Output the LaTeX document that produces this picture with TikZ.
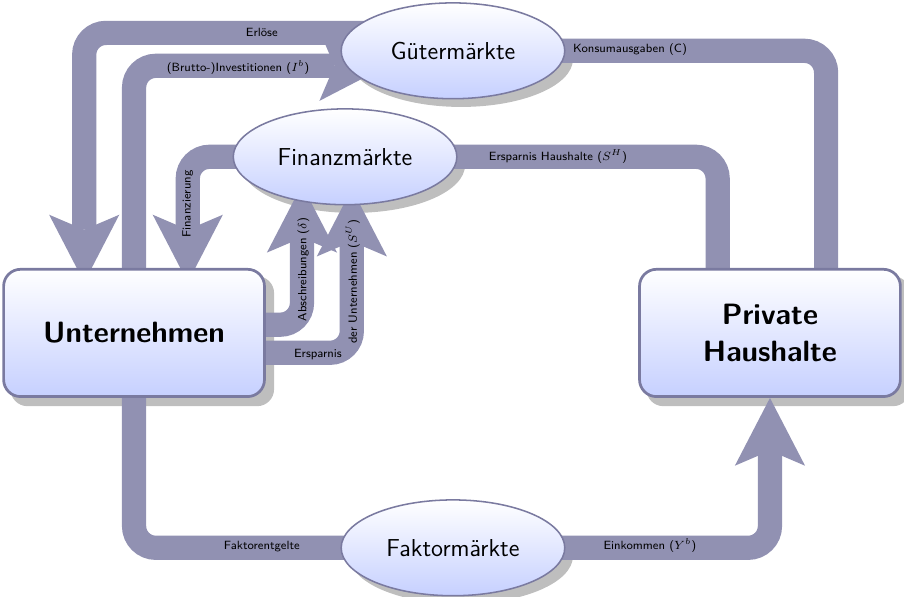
\documentclass[tikz,border=0pt]{standalone}
\usepackage{fontspec}
\usepackage{amsmath}
\usetikzlibrary{arrows.meta,positioning,calc,shapes.geometric}

\definecolor{flowc}{RGB}{145,145,178}
\definecolor{edgec}{RGB}{122,122,160}
\definecolor{lightb}{RGB}{198,208,255}
\definecolor{shadowc}{RGB}{190,190,190}

\pgfdeclarelayer{shadow}
\pgfdeclarelayer{flow}
\pgfsetlayers{shadow,flow,main}

\tikzset{
  sektor/.style={rectangle, rounded corners=0.35cm, draw=edgec, line width=1.6pt,
    top color=white, bottom color=lightb, minimum width=5.39cm, minimum height=2.63cm,
    font=\LARGE\sffamily\bfseries, align=center},
  markt/.style={ellipse, draw=edgec, line width=0.9pt, top color=white, bottom color=lightb,
    minimum width=4.62cm, minimum height=1.98cm, font=\Large\sffamily, inner sep=0pt},
  flow/.style={line width=0.5cm, draw=flowc, rounded corners=0.45cm,
    -{Stealth[length=1.4cm,width=1.45cm,inset=0.31cm,line width=0pt]}},
  lbl/.style={font=\scriptsize\sffamily, inner sep=1pt},
}

\begin{document}
\begin{tikzpicture}

  \useasboundingbox (0,0) rectangle (18.68,12.33);

  % Sektoren
  \node[sektor] (U) at (2.77,5.45) {Unternehmen};
  \node[sektor] (H) at (15.91,5.45) {Private\\Haushalte};

  % Maerkte
  \node[markt] (G) at (9.36,11.28) {Gütermärkte};
  \node[markt] (F) at (7.13,9.09) {Finanzmärkte};
  \node[markt] (K) at (9.36,1.01) {Faktormärkte};

  % Schatten
  \begin{pgfonlayer}{shadow}
    \foreach \n in {U,H} {
      \fill[shadowc, rounded corners=0.35cm] ($(\n.south west)+(0.17,-0.17)$)
        rectangle ($(\n.north east)+(0.17,-0.17)$);
    }
    \foreach \n in {G,F,K} {
      \fill[shadowc] ($(\n.center)+(0.17,-0.17)$) ellipse [x radius=2.31cm, y radius=0.99cm];
    }
  \end{pgfonlayer}

  % Stroeme
  \begin{pgfonlayer}{flow}
    \draw[flow] ($(G.center)+(0,0.37)$) -| ($(U.north)+(-1.03,-0.3)$);
    \draw[flow] (U.north) |- ($(G.center)+(-1.36,-0.31)$);
    \draw[flow] ($(H.north)+(1.16,0)$) |- (G.center);
    \draw[flow] ($(H.north)+(-1.08,0)$) |- (F.center);
    \draw[flow] (F.center) -| ($(U.north)+(1.11,-0.3)$);
    \draw[flow] ($(U.east)+(0,0.17)$) -| ($(F.center)+(-0.89,-0.58)$);
    \draw[flow] ($(U.east)+(0,-0.41)$) -| ($(F.center)+(0.14,-0.66)$);
    \draw[flow] (U.south) |- (K.center);
    \draw[flow] (K.center) -| (H.south);
  \end{pgfonlayer}

  % Beschriftungen
  \node[lbl] (lerl) at (5.41,11.65) {Erlöse};
  \node[lbl] (linv) at (4.92,10.93) {(Brutto-)Investitionen ($I^b$)};
  \node[lbl] (lkon) at (13.02,11.30) {Konsumausgaben (C)};
  \node[lbl] (lsh) at (11.53,9.09) {Ersparnis Haushalte ($S^H$)};
  \node[lbl, rotate=90] (lfin) at (3.88,8.11) {Finanzierung};
  \node[lbl, rotate=90] (labs) at (6.27,6.76) {Abschreibungen ($\delta$)};
  \node[lbl, rotate=90] (lsu) at (7.29,6.51) {der Unternehmen ($S^U$)};
  \node[lbl] (lers) at (6.57,5.0) {Ersparnis};
  \node[lbl] (lfak) at (5.41,1.03) {Faktorentgelte};
  \node[lbl] (lein) at (13.43,1.05) {Einkommen ($Y^b$)};

\end{tikzpicture}
\end{document}
